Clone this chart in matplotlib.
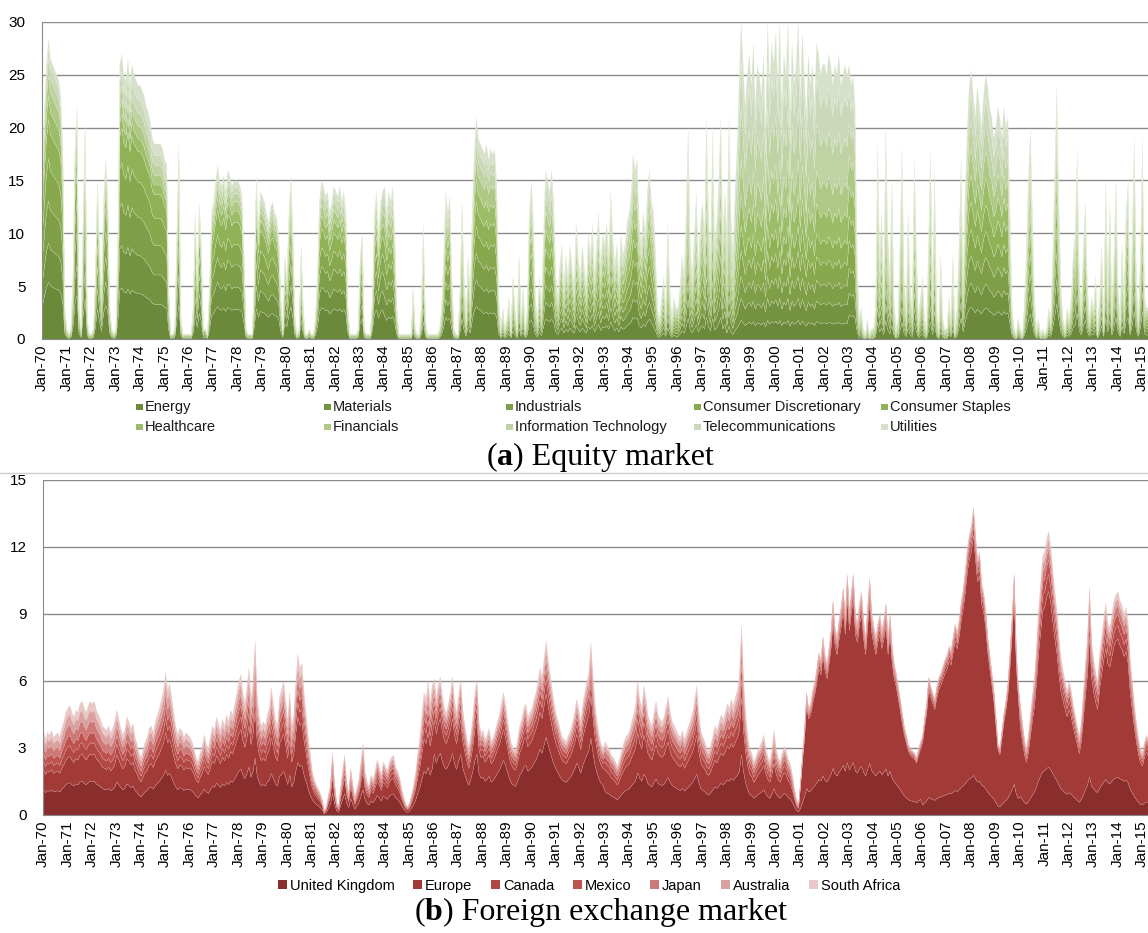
import numpy as np
import pandas as pd
import matplotlib
matplotlib.use('Agg')
import matplotlib.pyplot as plt
import matplotlib.dates as mdates
from matplotlib.patches import Rectangle
from matplotlib.lines import Line2D
from matplotlib.offsetbox import TextArea, HPacker, AnnotationBbox

# ---------------- (a) equity market ----------------
# total height of the stack, one row per year (Jan..Dec)
eq_total = [
    17, 22, 26, 28.5, 26.5, 26, 25.5, 25, 24.5, 23, 18, 3,          # 1970
    1, 0.5, 1, 6, 18, 22, 3, 1, 12, 20.5, 2, 0.5,                   # 1971
    0.5, 1, 6, 15, 9, 4, 13, 17, 14, 3, 1, 0.5,                     # 1972
    1, 10, 26, 27, 25, 24.5, 26.5, 24, 26, 25, 24.5, 24,            # 1973
    24, 23.5, 23, 22, 21.5, 20.5, 19, 18.5, 18.5, 18.5, 18.5, 18,   # 1974
    17, 16.5, 5, 0.5, 0.5, 1, 10, 18.5, 2, 0.5, 0.5, 0.5,           # 1975
    0.5, 0.5, 3, 12, 6, 13, 9, 1, 1, 0.5, 5, 12,                    # 1976
    13, 15, 16.5, 15, 14.5, 15.5, 14, 16, 15.5, 14.5, 15, 15,       # 1977
    15, 14.5, 13.5, 8, 1, 0.5, 0.5, 0.5, 6, 15.5, 11, 14,           # 1978
    13.5, 13, 12, 11, 12.5, 13, 12, 11.5, 10, 4, 1, 8,              # 1979
    6, 12, 15.5, 10, 2, 0.5, 1, 9, 3, 0.5, 0.5, 1,                  # 1980
    0.5, 0.5, 2, 6, 13, 15, 14.5, 13.5, 14, 12, 13, 14.5,           # 1981
    14, 13.5, 14.5, 13, 14, 12, 3, 0.5, 0.5, 0.5, 0.5, 1,           # 1982
    8, 10, 1, 0.5, 0.5, 0.5, 4, 12, 14, 10, 13, 14,                 # 1983
    14.5, 12, 14, 13, 14.5, 10, 3, 0.5, 0.5, 0.5, 0.5, 0.5,         # 1984
    0.5, 0.5, 5, 1, 0.5, 0.5, 3, 11, 2, 0.5, 0.5, 0.5,              # 1985
    0.5, 0.5, 0.5, 1, 3, 8, 14, 12, 13.5, 6, 1, 0.5,                # 1986
    0.5, 5, 13, 6, 2, 8, 4, 12, 18, 21, 19, 18.5,                   # 1987
    18, 17.5, 18.5, 17, 18, 17.5, 18, 15, 4, 1, 3, 1,               # 1988
    2, 4, 1, 6, 3, 1, 8, 2, 5, 1, 3, 12,                            # 1989
    15, 11, 4, 2, 6, 3, 10, 16, 15, 14, 16, 13,                     # 1990
    6, 4, 7, 9, 5, 8, 6, 9, 7, 5, 11, 8,                            # 1991
    6, 9, 7, 5, 10, 8, 11, 6, 9, 12, 7, 10,                         # 1992
    9, 11, 8, 14, 10, 7, 9, 6, 10, 8, 9, 11,                        # 1993
    12, 14, 17.5, 16, 17, 11, 9, 12, 10, 14, 16, 13,                # 1994
    12, 8, 3, 2, 4, 6, 3, 11, 5, 2, 4, 3,                           # 1995
    3, 5, 8, 6, 12, 20, 9, 6, 10, 14, 7, 11,                        # 1996
    13, 10, 21, 12, 8, 20, 9, 11, 15, 21, 10, 14,                   # 1997
    10, 21, 12, 8, 14, 18, 24, 30, 26, 22, 25, 27,                  # 1998
    24, 28, 22, 26, 25, 23, 27, 20, 30, 24, 28, 26,                 # 1999
    29, 24, 30, 22, 27, 25, 30, 21, 28, 24, 26, 30,                 # 2000
    23, 29, 25, 21, 27, 24, 26, 22, 28, 27, 25, 26,                 # 2001
    26, 25, 27, 26, 24, 26, 25, 27, 24, 25, 26, 25,                 # 2002
    26, 24, 25, 22, 8, 2, 3, 1, 0.5, 2, 0.5, 1,                     # 2003
    1, 3, 18.5, 8, 12, 5, 20, 10, 6, 15, 4, 1,                      # 2004
    2, 10, 18, 6, 3, 12, 5, 3, 17, 9, 2, 4,                         # 2005
    6, 2, 1, 9, 18, 5, 16, 3, 1, 8, 2, 1,                           # 2006
    1, 4, 2, 8, 1, 3, 9, 17, 6, 14, 20, 24,                         # 2007
    25.5, 23, 21, 24, 22, 20, 23, 25, 24, 22, 21, 19,               # 2008
    20, 22, 21, 19, 22, 20, 21, 12, 3, 1, 0.5, 2,                   # 2009
    1, 0.5, 3, 8, 15, 20, 12, 4, 1, 2, 0.5, 1,                      # 2010
    0.5, 1, 3, 2, 8, 16, 24, 13, 5, 2, 1, 3,                        # 2011
    2, 4, 8, 10, 18, 6, 3, 9, 13, 5, 2, 4,                          # 2012
    3, 6, 1, 4, 9, 2, 15, 5, 13, 3, 8, 15,                          # 2013
    5, 2, 9, 4, 12, 15, 3, 10, 19, 6, 2, 8,                         # 2014
    19, 4, 3, 3,                                                    # 2015
]

eq_sectors = ['Energy', 'Materials', 'Industrials', 'Consumer Discretionary',
              'Consumer Staples', 'Healthcare', 'Financials',
              'Information Technology', 'Telecommunications', 'Utilities']
eq_colors = ['#6b893a', '#749340', '#7e9e47', '#87a84d', '#90b257',
             '#9cbd68', '#adc985', '#bfd2a4', '#cbd9ba', '#d6e0ca']

# share of each sector in the stack (%), per period starting in these years
eq_period = [1970, 1973, 1976, 1980, 1984, 1988, 1990, 1995, 1998, 2003, 2007, 2011]
eq_energy = [19, 18, 19, 20, 15, 14, 12, 10, 6, 9, 12, 14]
eq_materials = [13, 15, 14, 13, 12, 12, 10, 9, 7, 8, 9, 10]
eq_industrials = [14, 15, 14, 13, 12, 12, 10, 9, 7, 9, 10, 10]
eq_discretionary = [14, 14, 13, 12, 12, 12, 11, 10, 8, 10, 10, 10]
eq_staples = [13, 12, 14, 12, 11, 11, 11, 10, 8, 9, 10, 10]
eq_healthcare = [8, 5, 7, 8, 10, 10, 11, 11, 10, 11, 10, 10]
eq_financials = [7, 5, 6, 7, 9, 10, 11, 11, 11, 11, 10, 10]
eq_it = [5, 5, 5, 6, 7, 7, 9, 11, 16, 12, 10, 9]
eq_telecom = [4, 5, 4, 5, 6, 6, 8, 10, 15, 11, 10, 9]
eq_utilities = [3, 6, 4, 4, 6, 6, 7, 9, 12, 10, 9, 8]

# ---------------- (b) foreign exchange market ----------------
fx_total = [
    3.8, 3.4, 3.7, 3.6, 3.8, 3.5, 3.6, 3.7, 3.5, 3.9, 4.2, 4.6,       # 1970
    4.8, 4.9, 4.6, 4.4, 4.7, 4.6, 5.0, 5.1, 4.8, 4.6, 4.9, 5.1,       # 1971
    5.0, 5.1, 4.7, 4.5, 4.3, 4.0, 3.9, 3.8, 4.0, 3.7, 3.9, 4.2,       # 1972
    4.7, 4.3, 3.9, 3.6, 3.8, 4.4, 4.2, 3.9, 4.1, 3.5, 3.2, 2.8,       # 1973
    2.6, 3.0, 3.3, 3.5, 3.9, 4.0, 3.7, 4.2, 4.5, 4.8, 5.2, 5.6,       # 1974
    6.4, 5.6, 5.9, 5.3, 4.6, 4.0, 3.6, 3.9, 3.8, 3.5, 3.7, 3.6,       # 1975
    3.5, 3.3, 3.0, 2.6, 2.4, 2.8, 3.1, 3.6, 3.2, 3.0, 3.5, 4.0,       # 1976
    3.8, 4.4, 4.1, 3.8, 4.3, 4.0, 4.5, 4.2, 4.7, 4.5, 5.0, 5.5,       # 1977
    6.0, 6.3, 5.5, 5.0, 5.7, 6.6, 5.2, 6.0, 7.8, 5.4, 4.5, 4.0,       # 1978
    4.2, 4.0, 4.5, 4.8, 5.7, 5.0, 4.3, 4.0, 5.3, 5.6, 6.0, 5.2,       # 1979
    4.2, 5.5, 3.9, 4.5, 6.0, 7.2, 6.6, 6.8, 5.5, 4.6, 3.6, 2.8,       # 1980
    2.0, 1.6, 1.4, 1.2, 1.0, 0.7, 0.2, 0.4, 0.9, 1.4, 2.8, 1.5,       # 1981
    0.6, 0.4, 1.2, 2.0, 2.7, 1.5, 1.0, 2.1, 1.4, 0.8, 1.2, 1.6,       # 1982
    2.4, 3.2, 2.0, 1.5, 1.3, 1.8, 1.6, 2.0, 2.5, 2.2, 1.8, 2.4,       # 1983
    2.2, 2.0, 2.4, 2.6, 2.7, 2.2, 2.0, 1.7, 1.2, 0.8, 0.5, 0.4,       # 1984
    0.6, 1.0, 1.4, 2.0, 2.8, 3.5, 4.5, 5.5, 5.2, 6.0, 5.0, 5.8,       # 1985
    6.1, 5.2, 5.8, 6.2, 5.4, 4.8, 4.6, 5.0, 5.5, 6.2, 5.1, 4.6,       # 1986
    5.4, 6.1, 4.8, 4.1, 3.5, 3.0, 3.6, 4.4, 5.5, 6.1, 4.2, 3.7,       # 1987
    3.8, 3.4, 3.6, 3.9, 3.3, 3.5, 3.8, 4.2, 4.5, 5.0, 5.5, 5.0,       # 1988
    4.3, 3.6, 3.2, 3.0, 2.9, 3.4, 4.0, 4.3, 4.8, 5.0, 4.4, 4.6,       # 1989
    4.8, 5.2, 5.5, 6.0, 6.6, 6.2, 7.0, 7.8, 7.0, 6.3, 5.6, 5.0,       # 1990
    4.5, 4.2, 3.8, 3.5, 3.4, 3.3, 3.6, 3.8, 4.2, 4.6, 5.2, 4.8,       # 1991
    4.2, 5.0, 5.5, 6.0, 6.4, 7.7, 6.3, 5.0, 4.2, 3.6, 3.2, 3.0,       # 1992
    3.3, 3.1, 3.0, 2.7, 2.6, 2.4, 2.2, 2.5, 2.9, 3.2, 3.5, 3.6,       # 1993
    3.8, 4.2, 4.5, 4.9, 6.0, 5.2, 4.8, 5.8, 5.3, 4.5, 4.2, 4.0,       # 1994
    4.6, 5.1, 4.5, 4.3, 4.2, 4.4, 4.9, 5.3, 4.6, 4.2, 4.0, 3.8,       # 1995
    3.6, 3.5, 3.8, 3.4, 3.7, 4.0, 4.3, 4.6, 5.2, 5.8, 4.6, 3.8,       # 1996
    3.5, 3.3, 3.0, 2.9, 3.2, 3.6, 4.0, 3.8, 4.2, 4.5, 4.3, 4.6,       # 1997
    5.0, 4.8, 5.2, 4.9, 5.3, 5.6, 6.2, 8.5, 6.1, 4.6, 3.6, 3.0,       # 1998
    2.8, 2.4, 2.6, 2.9, 3.1, 3.3, 3.6, 3.0, 2.6, 2.4, 3.0, 3.8,       # 1999
    3.0, 2.6, 2.4, 2.8, 3.1, 2.9, 2.5, 2.3, 1.8, 1.2, 0.7, 0.5,       # 2000
    1.5, 2.8, 3.8, 5.5, 4.8, 5.0, 5.6, 6.0, 6.6, 7.3, 7.0, 8.0,       # 2001
    7.2, 6.8, 7.5, 8.3, 9.6, 8.4, 8.0, 8.8, 9.4, 10.2, 9.0, 10.8,     # 2002
    9.2, 10.1, 10.8, 9.0, 8.6, 9.5, 10.0, 8.8, 8.0, 9.4, 10.6, 9.1,   # 2003
    8.5, 8.0, 8.6, 9.0, 8.3, 8.8, 9.5, 8.0, 9.0, 7.6, 6.8, 6.4,       # 2004
    5.8, 5.2, 4.6, 4.0, 3.6, 3.2, 3.0, 2.9, 2.8, 2.6, 3.0, 3.3,       # 2005
    3.6, 4.4, 5.0, 6.2, 5.8, 5.5, 5.2, 5.8, 6.2, 6.4, 6.7, 7.0,       # 2006
    7.2, 7.6, 7.4, 8.0, 8.6, 8.2, 8.8, 9.6, 10.2, 11.0, 12.0, 12.6,   # 2007
    13.0, 13.8, 12.6, 11.5, 11.8, 10.4, 10.0, 9.2, 8.0, 7.2, 6.4, 5.6,  # 2008
    4.4, 3.2, 3.0, 3.8, 4.6, 5.2, 6.0, 7.4, 9.0, 10.8, 7.4, 5.8,      # 2009
    5.0, 4.2, 3.5, 3.0, 3.6, 4.5, 5.4, 6.2, 7.6, 9.2, 10.4, 11.6,     # 2010
    11.8, 12.4, 12.7, 12.0, 11.0, 10.0, 9.2, 8.0, 7.0, 6.5, 6.0, 5.6, # 2011
    6.0, 5.6, 5.0, 4.5, 4.0, 3.5, 4.2, 5.5, 6.8, 8.0, 10.2, 7.8,      # 2012
    7.0, 6.4, 6.0, 7.2, 8.0, 8.8, 9.5, 8.6, 8.4, 9.0, 9.6, 9.9,       # 2013
    10.0, 9.6, 9.4, 9.0, 9.3, 8.6, 7.0, 6.0, 5.0, 4.2, 3.5, 3.0,      # 2014
    2.8, 3.3, 3.6, 3.4,                                               # 2015
]

fx_names = ['United Kingdom', 'Europe', 'Canada', 'Mexico', 'Japan',
            'Australia', 'South Africa']
fx_colors = ['#8a2e2d', '#a23a38', '#b24845', '#bd524f', '#cc7977',
             '#d9a2a1', '#e8c9c8']

fx_period = [1970, 1973, 1976, 1981, 1986, 1993, 2001, 2006, 2010]
fx_uk = [30, 32, 33, 36, 45, 32, 22, 13, 17]
fx_europe = [24, 26, 28, 26, 25, 30, 68, 78, 62]
fx_canada = [10, 10, 9, 9, 8, 10, 3, 3, 6]
fx_mexico = [9, 8, 8, 8, 6, 8, 2, 2, 5]
fx_japan = [10, 9, 8, 8, 6, 8, 2, 2, 4]
fx_australia = [9, 8, 7, 7, 5, 6, 2, 1, 3]
fx_safrica = [8, 7, 7, 6, 5, 6, 1, 1, 3]


def build_layers(total, period, shares):
    dates = pd.date_range('1970-01-01', periods=len(total), freq='MS')
    idx = np.searchsorted(period, dates.year, side='right') - 1
    shares = np.array(shares, dtype=float)
    return dates, shares[:, idx] / 100.0 * np.array(total)


plt.rcParams['font.family'] = ['Liberation Sans', 'DejaVu Sans']

fig = plt.figure(figsize=(11.48, 9.33), dpi=100)

ax1 = fig.add_axes([0.0366, 0.6367, 0.9634, 0.3398])
ax2 = fig.add_axes([0.0375, 0.1265, 0.9625, 0.3591])

d1, l1 = build_layers(eq_total, eq_period,
                      [eq_energy, eq_materials, eq_industrials, eq_discretionary,
                       eq_staples, eq_healthcare, eq_financials, eq_it,
                       eq_telecom, eq_utilities])
polys = ax1.stackplot(d1, l1, colors=eq_colors, linewidth=0.25)
for p in polys:
    p.set_edgecolor((0.9, 0.94, 0.84, 0.55))

d2, l2 = build_layers(fx_total, fx_period,
                      [fx_uk, fx_europe, fx_canada, fx_mexico, fx_japan,
                       fx_australia, fx_safrica])
polys = ax2.stackplot(d2, l2, colors=fx_colors, linewidth=0.25)
for p in polys:
    p.set_edgecolor((0.92, 0.68, 0.67, 0.6))

for ax, top, step, d in [(ax1, 30, 5, d1), (ax2, 15, 3, d2)]:
    ax.set_ylim(0, top)
    ax.set_yticks(np.arange(0, top + 1, step))
    ax.set_xlim(d[0], d[-1])
    ax.xaxis.set_major_locator(mdates.YearLocator(1, month=1, day=1))
    ax.xaxis.set_major_formatter(mdates.DateFormatter('%b-%y'))
    ax.tick_params(axis='x', rotation=90, labelsize=11, length=0, pad=4)
    ax.tick_params(axis='y', labelsize=11, length=0, pad=12)
    ax.set_axisbelow(True)
    ax.grid(axis='y', color='#8a8a8a', linewidth=1.0)
    for s in ['top', 'right']:
        ax.spines[s].set_visible(False)
    ax.spines['left'].set_color('#8a8a8a')
    ax.spines['bottom'].set_color('#8a8a8a')

# legend of panel (a): two rows, fixed column widths
col_x = [0.1263, 0.2901, 0.4486, 0.6124, 0.7753]
row_y = [0.5638, 0.5423]
for i, (name, c) in enumerate(zip(eq_sectors, eq_colors)):
    x = col_x[i % 5]
    y = row_y[i // 5]
    fig.add_artist(Rectangle((x - 0.0075, y - 0.0037), 0.0058, 0.0072,
                             transform=fig.transFigure, color=c, lw=0))
    fig.text(x, y, name, fontsize=10.5, va='center', ha='left', color='#1a1a1a')

# legend of panel (b): one row
handles = [Rectangle((0, 0), 1, 1, color=c, lw=0) for c in fx_colors]
fig.legend(handles, fx_names, loc='center', bbox_to_anchor=(0.513, 0.0504),
           ncol=7, frameon=False, fontsize=10.5, handlelength=0.6,
           handleheight=0.6, handletextpad=0.2, columnspacing=1.3)

# separator line between the two panels
fig.add_artist(Line2D([0, 1], [0.493, 0.493], transform=fig.transFigure,
                      color='#cfcfcf', lw=1))


def caption(letter, text, y):
    parts = [TextArea('(', textprops=dict(family='Liberation Serif', size=23)),
             TextArea(letter, textprops=dict(family='Liberation Serif', size=23,
                                              weight='bold')),
             TextArea(') ' + text, textprops=dict(family='Liberation Serif', size=23))]
    box = HPacker(children=parts, pad=0, sep=0, align='baseline')
    ab = AnnotationBbox(box, (0.523, y), xycoords='figure fraction',
                        frameon=False, box_alignment=(0.5, 0.5))
    fig.add_artist(ab)


caption('a', 'Equity market', 0.510)
caption('b', 'Foreign exchange market', 0.0225)

plt.savefig('out.png', dpi=100)
